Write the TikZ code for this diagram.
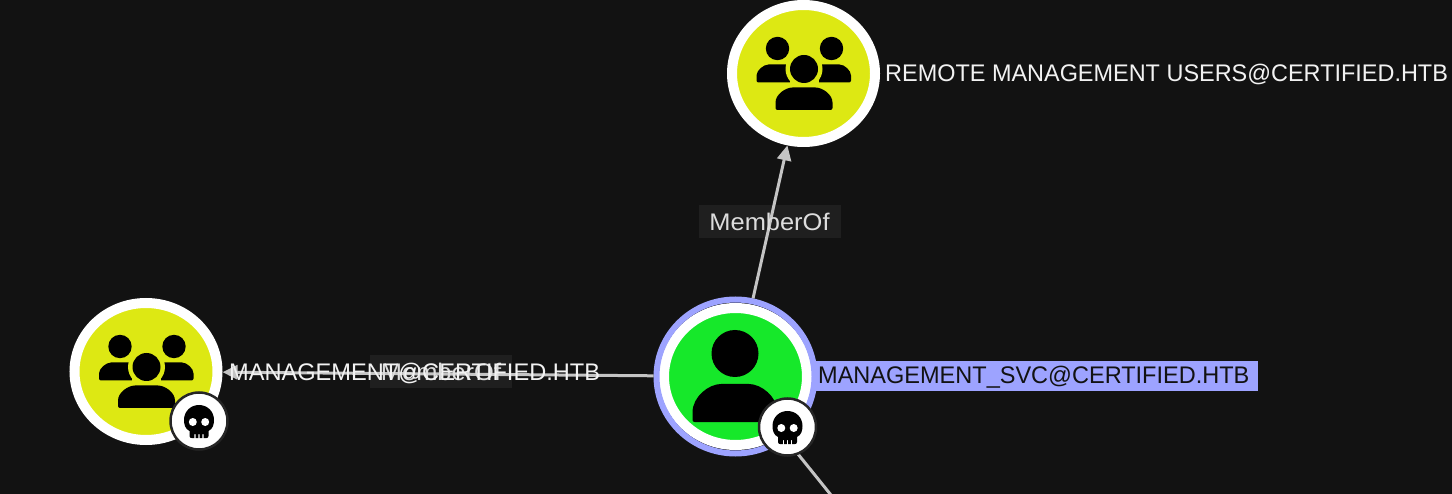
\documentclass[tikz,border=0pt]{standalone}
\usepackage{fontspec}
\setmainfont{Liberation Sans}
\usetikzlibrary{arrows.meta,shapes.geometric}
\definecolor{bgc}{HTML}{121212}
\definecolor{groupc}{HTML}{DDE813}
\definecolor{userc}{HTML}{16E82A}
\definecolor{selc}{HTML}{9DA3FF}
\definecolor{edgec}{HTML}{C4C4C4}
\definecolor{labbg}{HTML}{1F1F1F}
\definecolor{labtx}{HTML}{DDDDDD}
\definecolor{nodetx}{HTML}{F2F2F2}
\newcommand{\fitx}[2]{\scalebox{#1}[1]{#2}}
\tikzset{
  x=1pt,y=-1pt,
  groupnode/.style={ellipse,draw=white,fill=groupc,line width=10pt,minimum width=143pt,minimum height=137pt,inner sep=0pt},
  usernode/.style={ellipse,draw=white,fill=userc,minimum width=143pt,minimum height=137pt,line width=10pt,inner sep=0pt},
  halo/.style={ellipse,draw=selc,line width=6pt,minimum width=158pt,minimum height=154pt,inner sep=0pt},
  badge/.style={circle,draw=black!85!white,fill=white,line width=2.5pt,minimum size=57pt,inner sep=0pt},
  nodetext/.style={text=nodetx,font=\fontsize{24}{28}\selectfont,inner sep=0pt,anchor=west},
  selbox/.style={fill=selc,anchor=west,inner sep=0pt,minimum height=30pt,minimum width=443pt},
  seltext/.style={text=bgc,font=\fontsize{24}{28}\selectfont,anchor=west,inner sep=0pt},
  edgelab/.style={text=labtx,font=\fontsize{24}{28}\selectfont,inner sep=0pt},
  labbox/.style={fill=labbg,minimum width=142pt,minimum height=33pt,inner sep=0pt},
  edgeline/.style={draw=edgec,line width=3pt},
  arrowline/.style={edgeline,-{Triangle[length=15pt,width=14pt]}},
  groupicon/.pic={
    \fill[black] (-26,-25) circle (11.7) (28,-25) circle (11.7);
    \fill[black,rounded corners=2pt] (-47,9) -- (-47,4) .. controls (-47,-3) and (-40,-9) .. (-33,-9) -- (34,-9) .. controls (41,-9) and (47.5,-3) .. (47.5,4) -- (47.5,9) -- cycle;
    \fill[groupc] (0.5,-4.5) circle (18.5);
    \fill[groupc] (-14,-10) rectangle (15,10);
    \fill[black] (0.5,-4.5) circle (14);
    \fill[black,rounded corners=2pt] (-28,36.5) -- (-28,31) .. controls (-28,21) and (-18,14) .. (-9,14) -- (10,14) .. controls (19,14) and (29,21) .. (29,31) -- (29,36.5) -- cycle;
  },
  usericon/.pic={
    \fill[black] (0,-23) circle (23.5);
    \fill[black,rounded corners=2pt] (-42.5,45.5) -- (-42.5,38) .. controls (-42.5,20) and (-26,7.5) .. (-12,7.5) -- (12,7.5) .. controls (26,7.5) and (42.5,20) .. (42.5,38) -- (42.5,45.5) -- cycle;
  },
  skull/.pic={
    \fill[black] (-9.5,10) .. controls (-14,8) and (-15,3) .. (-15,-1) .. controls (-15,-10) and (-8,-16) .. (0,-16) .. controls (8,-16) and (15,-10) .. (15,-1) .. controls (15,3) and (14,8) .. (9.5,10) -- (9.5,15) .. controls (9.5,16.5) and (8.5,17) .. (7.5,17) -- (4.6,17) -- (4.6,13) -- (3.4,13) -- (3.4,17) -- (0.6,17) -- (0.6,13) -- (-0.6,13) -- (-0.6,17) -- (-3.4,17) -- (-3.4,13) -- (-4.6,13) -- (-4.6,17) -- (-7.5,17) .. controls (-8.5,17) and (-9.5,16.5) .. (-9.5,15) -- cycle;
    \fill[white] (-6.2,1) circle (4) (6.2,1) circle (4);
  }
}
\begin{document}
\begin{tikzpicture}
\useasboundingbox (0,0) rectangle (1452,494);
\clip (0,0) rectangle (1452,494);
\fill[bgc] (0,0) rectangle (1452,494);
\node[labbox] (lab1) at (769.5,221.5) {};
\node[labbox] (lab2) at (441,371.5) {};
\node[selbox] (selb) at (815,376) {};
\node[groupnode] (top) at (803.5,73.5) {};
\node[groupnode] (left) at (146,371.5) {};
\node[usernode] (mid) at (735.5,376.5) {};
\node[halo] (midh) at (735.5,376.5) {};
\coordinate (off) at (835,500);
\draw[arrowline] (midh) -- (top);
\draw[arrowline] (midh) -- (left);
\draw[edgeline] (midh) -- (off);
\pic at (803.5,73.5) {groupicon};
\pic at (146,371.5) {groupicon};
\pic at (735,376.5) {usericon};
\node[badge] (b1) at (199,421) {};
\node[badge] (b2) at (787.5,427) {};
\pic at (199,421) {skull};
\pic at (787.5,427) {skull};
\node[edgelab] at (lab1) {\fitx{1.06}{MemberOf}};
\node[edgelab] at (lab2) {\fitx{1.06}{MemberOf}};
\node[nodetext] (t1) at (885,74) {\fitx{0.977}{REMOTE MANAGEMENT USERS@CERTIFIED.HTB}};
\node[nodetext] (t2) at (229,373) {\fitx{0.983}{MANAGEMENT@CERTIFIED.HTB}};
\node[seltext] (t3) at (818,377) {\fitx{0.98}{MANAGEMENT\_SVC@CERTIFIED.HTB}};
\end{tikzpicture}
\end{document}
